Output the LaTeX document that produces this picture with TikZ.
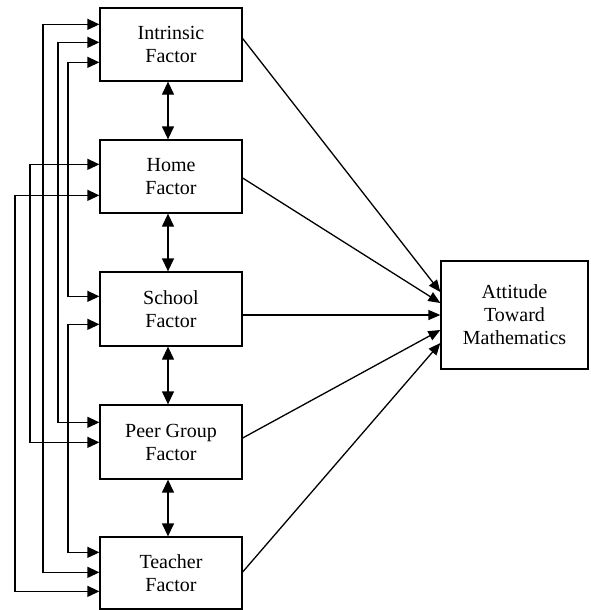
\documentclass[tikz,border=0pt]{standalone}
\usepackage{fontspec}
\setmainfont{Liberation Serif}
\usetikzlibrary{arrows.meta,calc}
\begin{document}
\begin{tikzpicture}[x=1pt,y=-1pt,
  factor/.style={draw,line width=1.3pt,minimum width=142pt,inner sep=0pt,align=center,
    font=\fontsize{20}{23}\selectfont},
  link/.style={line width=1.3pt,{Triangle[length=12pt,width=11pt]}-{Triangle[length=12pt,width=11pt]}},
  vlink/.style={line width=1.3pt,{Triangle[length=13pt,width=12pt]}-{Triangle[length=13pt,width=12pt]}},
  effect/.style={line width=1.3pt,-{Triangle[length=12pt,width=10pt]}}]
\useasboundingbox (0,0) rectangle (590,610);
\node[factor,minimum height=73pt] (intr) at (171,44.5) {Intrinsic\\Factor};
\node[factor,minimum height=73pt] (home) at (171,176.5) {Home\\Factor};
\node[factor,minimum height=74pt] (school) at (171,309) {School\\Factor};
\node[factor,minimum height=74pt] (peer) at (171,442) {Peer Group\\Factor};
\node[factor,minimum height=72pt] (teach) at (171,573) {Teacher\\Factor};
\node[factor,minimum width=147pt,minimum height=108pt] (att) at (514.5,315) {Attitude\\Toward\\Mathematics};
% columns
\coordinate (k15) at (15,0);
\coordinate (k30) at (30,0);
\coordinate (k43) at (43,0);
\coordinate (k58) at (58,0);
\coordinate (k68) at (68,0);
% entry points on the left sides
\coordinate (i1) at ($(intr.north west)+(0,17)$);
\coordinate (i2) at ($(intr.north west)+(0,35)$);
\coordinate (i3) at ($(intr.north west)+(0,55)$);
\coordinate (h1) at ($(home.north west)+(0,25)$);
\coordinate (h2) at ($(home.north west)+(0,56)$);
\coordinate (s1) at ($(school.north west)+(0,25)$);
\coordinate (s2) at ($(school.north west)+(0,53)$);
\coordinate (p1) at ($(peer.north west)+(0,18)$);
\coordinate (p2) at ($(peer.north west)+(0,38)$);
\coordinate (t1) at ($(teach.north west)+(0,16)$);
\coordinate (t2) at ($(teach.north west)+(0,36)$);
\coordinate (t3) at ($(teach.north west)+(0,55)$);
% non-adjacent correlations
\draw[link] (i1) -| (k43 |- t2) -- (t2);
\draw[link] (i2) -| (k58 |- p1) -- (p1);
\draw[link] (i3) -| (k68 |- s1) -- (s1);
\draw[link] (h1) -| (k30 |- p2) -- (p2);
\draw[link] (h2) -| (k15 |- t3) -- (t3);
\draw[link] (s2) -| (k68 |- t1) -- (t1);
% adjacent correlations
\draw[vlink] ([xshift=-3pt]intr.south) -- ([xshift=-3pt]home.north);
\draw[vlink] ([xshift=-3pt]home.south) -- ([xshift=-3pt]school.north);
\draw[vlink] ([xshift=-3pt]school.south) -- ([xshift=-3pt]peer.north);
\draw[vlink] ([xshift=-3pt]peer.south) -- ([xshift=-3pt]teach.north);
% effects on attitude
\draw[effect] ($(intr.east)+(0,-6)$) -- ($(att.west)+(0,-23)$);
\draw[effect] ($(home.east)+(0,1.5)$) -- ($(att.west)+(0,-12)$);
\draw[effect] ($(school.east)+(0,6)$) -- (att.west);
\draw[effect] ($(peer.east)+(0,-4)$) -- ($(att.west)+(0,15)$);
\draw[effect] ($(teach.east)+(0,-1)$) -- ($(att.west)+(0,28)$);
\end{tikzpicture}
\end{document}
